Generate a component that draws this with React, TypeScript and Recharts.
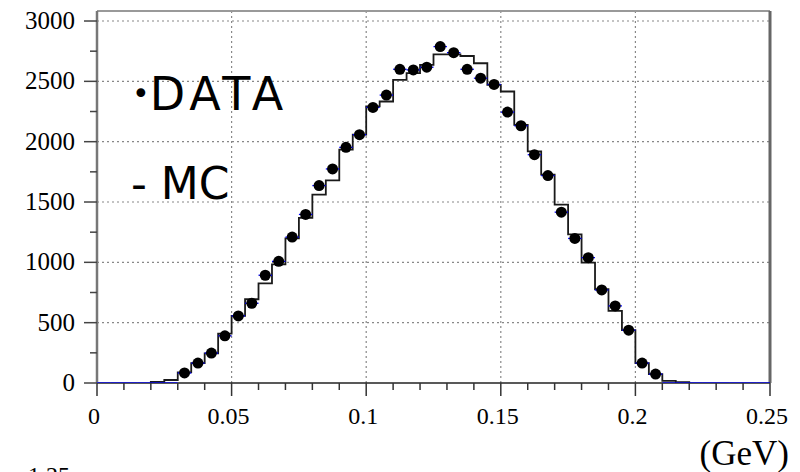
import React from 'react';
import {
  ComposedChart,
  Line,
  Scatter,
  XAxis,
  YAxis,
  ReferenceLine,
} from 'recharts';

// bin centres (GeV), bin width 0.005
const binCenters = [
  0.0025, 0.0075, 0.0125, 0.0175, 0.0225, 0.0275, 0.0325, 0.0375, 0.0425, 0.0475,
  0.0525, 0.0575, 0.0625, 0.0675, 0.0725, 0.0775, 0.0825, 0.0875, 0.0925, 0.0975,
  0.1025, 0.1075, 0.1125, 0.1175, 0.1225, 0.1275, 0.1325, 0.1375, 0.1425, 0.1475,
  0.1525, 0.1575, 0.1625, 0.1675, 0.1725, 0.1775, 0.1825, 0.1875, 0.1925, 0.1975,
  0.2025, 0.2075, 0.2125, 0.2175, 0.2225, 0.2275, 0.2325, 0.2375, 0.2425, 0.2475,
];
const halfBin = 0.0025;

const dataCounts = [
  0, 0, 0, 0, 0, 0, 83, 165, 248, 391,
  556, 661, 893, 1008, 1209, 1397, 1636, 1774, 1953, 2058,
  2284, 2386, 2600, 2595, 2617, 2788, 2738, 2600, 2526, 2474,
  2245, 2132, 1892, 1719, 1416, 1198, 1039, 771, 639, 438,
  165, 74, 0, 0, 0, 0, 0, 0, 0, 0,
];

const mcCounts = [
  0, 0, 0, 0, 10, 25, 88, 165, 245, 410,
  556, 694, 826, 983, 1198, 1369, 1562, 1680, 1934, 2058,
  2292, 2333, 2512, 2568, 2636, 2724, 2724, 2710, 2650, 2471,
  2416, 2140, 1920, 1727, 1479, 1231, 997, 777, 598, 438,
  165, 74, 18, 8, 0, 0, 0, 0, 0, 0,
];

const xTicks = [
  0, 0.01, 0.02, 0.03, 0.04, 0.05, 0.06, 0.07, 0.08, 0.09, 0.1, 0.11, 0.12,
  0.13, 0.14, 0.15, 0.16, 0.17, 0.18, 0.19, 0.2, 0.21, 0.22, 0.23, 0.24, 0.25,
];
const xMajor = [0, 0.05, 0.1, 0.15, 0.2, 0.25];
const xLabels = ['0', '0.05', '0.1', '0.15', '0.2', '0.25'];

const yTicks = [0, 250, 500, 750, 1000, 1250, 1500, 1750, 2000, 2250, 2500, 2750, 3000];
const yMajor = [0, 500, 1000, 1500, 2000, 2500, 3000];
const yLabels = ['0', '500', '1000', '1500', '2000', '2500', '3000'];
const yMax = 3083;

const gridX = [0.05, 0.1, 0.15, 0.2];
const gridY = [500, 1000, 1500, 2000, 2500, 3000];

const serif = '"Liberation Serif", "Times New Roman", serif';
const handFont = '"DejaVu Sans", sans-serif';

// layout
const W = 800;
const H = 472;
const margin = { top: 11, right: 30, left: 0, bottom: 0 };
const yAxisW = 97;
const xAxisH = 89;
const xDomain: [number, number] = [0, 0.25];
const plotW = W - margin.right - yAxisW;
const halfBinPx = (halfBin / (xDomain[1] - xDomain[0])) * plotW;

const points = binCenters.map((x, i) => ({ x, y: dataCounts[i] }));

const firstMc = mcCounts.findIndex((v) => v > 0);
const lastMc = mcCounts.length - 1 - [...mcCounts].reverse().findIndex((v) => v > 0);
const mcSteps = [
  { x: binCenters[firstMc] - halfBin, mc: 0 },
  ...mcCounts.slice(firstMc, lastMc + 1).map((mc, j) => ({
    x: binCenters[firstMc + j] - halfBin,
    mc,
  })),
  { x: binCenters[lastMc] + halfBin, mc: 0 },
];

const XTick = (props: any) => {
  const { x, y, payload } = props;
  const idx = xMajor.indexOf(payload.value);
  const major = idx >= 0;
  return (
    <g>
      <line x1={x} x2={x} y1={y} y2={y + (major ? 13 : 7)} stroke="#333" strokeWidth={1.5} />
      {major && (
        <text
          x={x - 3}
          y={y + 41}
          textAnchor="middle"
          style={{ fontFamily: serif, fontSize: 24 }}
          fill="#000"
        >
          {xLabels[idx]}
        </text>
      )}
    </g>
  );
};

const YTick = (props: any) => {
  const { x, y, payload } = props;
  const idx = yMajor.indexOf(payload.value);
  const major = idx >= 0;
  return (
    <g>
      <line x1={x} x2={x - (major ? 13 : 7)} y1={y} y2={y} stroke="#444" strokeWidth={1.5} />
      {major && (
        <text
          x={x - 22}
          y={y + 8}
          textAnchor="end"
          style={{ fontFamily: serif, fontSize: 25 }}
          fill="#000"
        >
          {yLabels[idx]}
        </text>
      )}
    </g>
  );
};

// data point: blue horizontal bar across the bin, black dot when filled
const DataDot = (props: any) => {
  const { cx, cy, payload } = props;
  return (
    <g>
      <line x1={cx - halfBinPx} x2={cx + halfBinPx} y1={cy} y2={cy} stroke="#0000ff" strokeWidth={1.3} />
      {payload && payload.y > 0 && <circle cx={cx} cy={cy} r={5.5} fill="#000" />}
    </g>
  );
};

export default function App() {
  return (
    <div style={{ position: 'absolute', left: 0, top: 0, width: W, height: H, background: '#fff' }}>
      <ComposedChart width={W} height={H} margin={margin}>
        <XAxis
          dataKey="x"
          type="number"
          domain={xDomain}
          ticks={xTicks}
          interval={0}
          tickSize={0}
          tickMargin={0}
          tickLine={false}
          tick={<XTick />}
          height={xAxisH}
          axisLine={{ stroke: '#222', strokeWidth: 1.5 }}
          allowDataOverflow
        />
        <YAxis
          type="number"
          domain={[0, yMax]}
          ticks={yTicks}
          interval={0}
          tickSize={0}
          tickMargin={0}
          tickLine={false}
          tick={<YTick />}
          width={yAxisW}
          axisLine={{ stroke: '#777', strokeWidth: 2.5 }}
          allowDataOverflow
        />
        {gridX.map((v) => (
          <ReferenceLine key={`gx${v}`} x={v} stroke="#888" strokeWidth={1.2} strokeDasharray="2 3" />
        ))}
        {gridY.map((v) => (
          <ReferenceLine key={`gy${v}`} y={v} stroke="#888" strokeWidth={1.2} strokeDasharray="2 3" />
        ))}
        <ReferenceLine y={yMax} stroke="#999" strokeWidth={2} />
        <ReferenceLine x={0.25} stroke="#666" strokeWidth={3} />
        <Scatter data={points} dataKey="y" shape={<DataDot />} isAnimationActive={false} />
        <Line
          data={mcSteps}
          dataKey="mc"
          type="stepAfter"
          stroke="#1a1a1a"
          strokeWidth={1.8}
          dot={false}
          activeDot={false}
          isAnimationActive={false}
        />
      </ComposedChart>
      <svg width={W} height={H} style={{ position: 'absolute', left: 0, top: 0, pointerEvents: 'none' }}>
        <text x={132} y={110} style={{ fontFamily: handFont }} fill="#000">
          <tspan fontSize={30} dy={-6}>•</tspan>
          <tspan fontSize={46} dy={6} letterSpacing={5}>DATA</tspan>
        </text>
        <text x={131} y={199} style={{ fontFamily: handFont, fontSize: 44 }} fill="#000">
          - MC
        </text>
        <text x={789} y={465} textAnchor="end" style={{ fontFamily: serif, fontSize: 35 }} fill="#000">
          (GeV)
        </text>
        <text x={28} y={483} style={{ fontFamily: serif, fontSize: 24 }} fill="#000">
          1.25
        </text>
      </svg>
    </div>
  );
}
